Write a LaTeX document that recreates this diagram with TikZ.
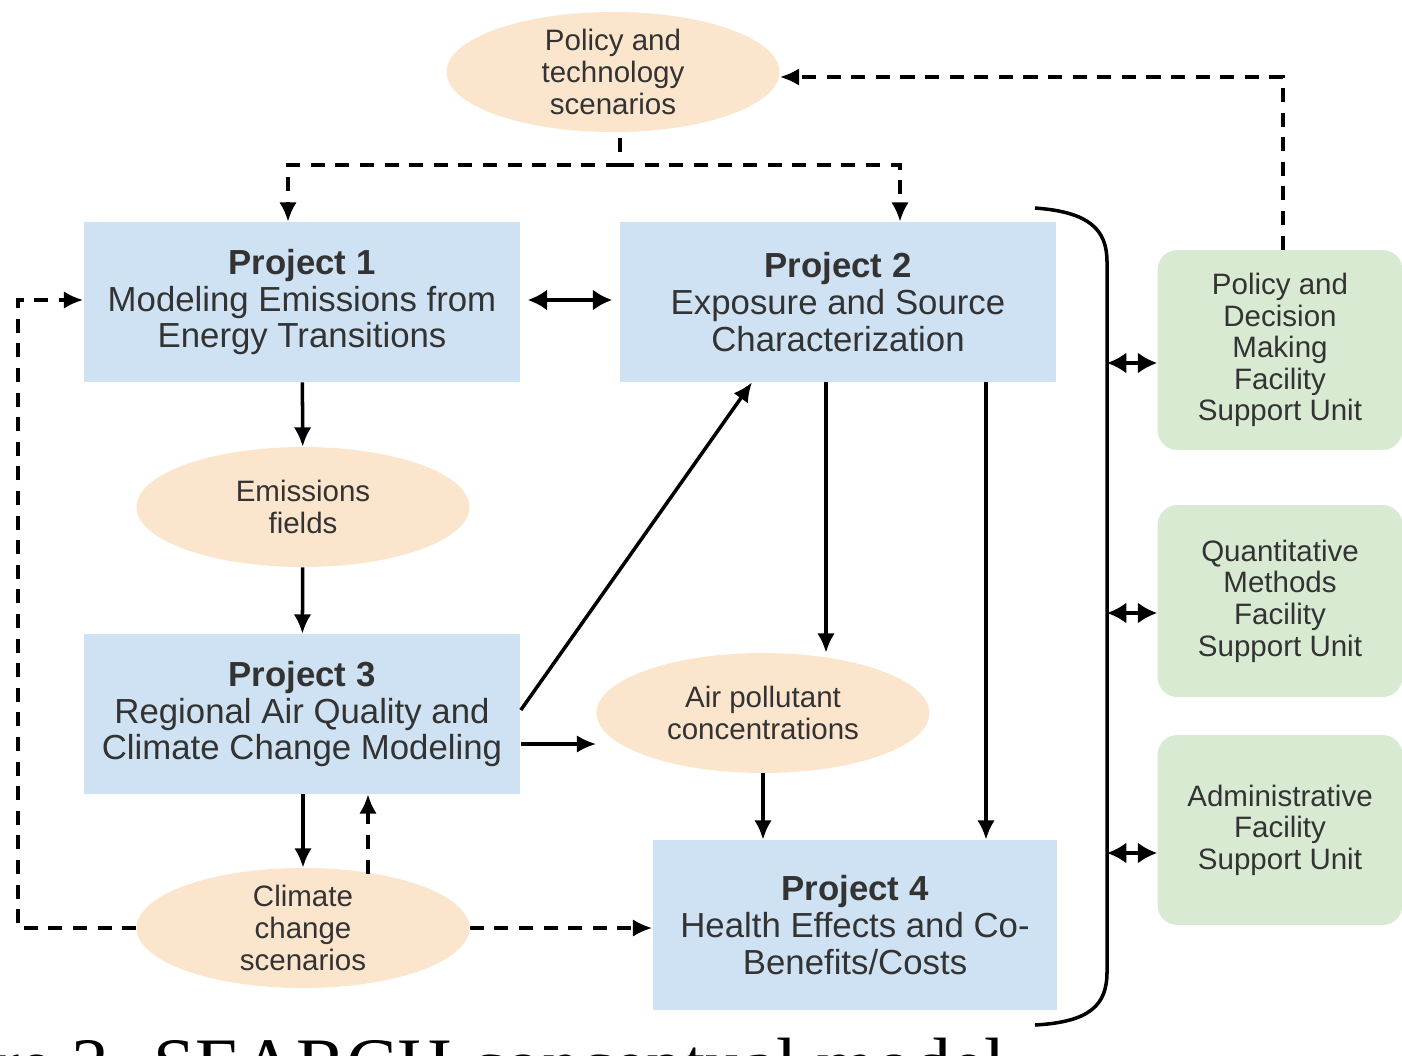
\documentclass[tikz,border=0pt]{standalone}
\usepackage{fontspec}
\setmainfont{Liberation Sans}
\newfontfamily\capfont{Liberation Serif}
\usepackage{xcolor}
\definecolor{projblue}{HTML}{CFE2F3}
\definecolor{dataorange}{HTML}{FCE5CD}
\definecolor{unitgreen}{HTML}{D9EAD3}
\definecolor{inktext}{HTML}{333333}
\usetikzlibrary{
  arrows.meta,
  positioning,
  shapes.geometric
}

\begin{document}
\begin{tikzpicture}[
  x=0.02cm, y=-0.02cm,
  projbox/.style={rectangle, fill=projblue, minimum width=8.74cm, minimum height=3.2cm, text=inktext, font=\fontsize{19.8}{21}\selectfont, align=center, inner sep=0pt},
  dataell/.style={ellipse, fill=dataorange, minimum width=6.66cm, minimum height=2.4cm, text=inktext, font=\fontsize{16.8}{18}\selectfont, align=center, inner sep=0pt},
  unitbox/.style={rectangle, rounded corners=0.4cm, fill=unitgreen, minimum width=4.9cm, text=inktext, font=\fontsize{16.8}{18}\selectfont, align=center, inner sep=0pt},
  arr/.style={-{Latex[length=11pt, width=10pt]}, line width=2pt},
  darr/.style={arr, dash pattern=on 8pt off 6pt},
  biarr/.style={{Latex[length=11pt, width=12pt]}-{Latex[length=11pt, width=12pt]}, line width=2pt},
]
\useasboundingbox (0,0) rectangle (1402,1055);

% scenario and data ellipses
\node[dataell] (policy) at (613,72) {Policy and\\technology\\scenarios};
\node[dataell] (emis) at (303,507) {Emissions\\fields};
\node[dataell] (air) at (763,713) {Air pollutant\\concentrations};
\node[dataell] (climate) at (303,928) {Climate\\change\\scenarios};

% projects
\node[projbox] (p1) at (302,302) {\textbf{Project 1}\\Modeling Emissions from\\Energy Transitions};
\node[projbox] (p2) at (838,302) {\textbf{Project 2}\\Exposure and Source\\Characterization};
\node[projbox] (p3) at (302,714) {\textbf{Project 3}\\Regional Air Quality and\\Climate Change Modeling};
\node[projbox, minimum width=8.1cm, minimum height=3.4cm] (p4) at (855,925) {\textbf{Project 4}\\Health Effects and Co-\\Benefits/Costs};

% facility support units
\node[unitbox, minimum height=4cm] (pdm) at (1280,350) {Policy and\\Decision\\Making\\Facility\\Support Unit};
\node[unitbox, minimum height=3.84cm] (qm) at (1280,601) {Quantitative\\Methods\\Facility\\Support Unit};
\node[unitbox, minimum height=3.8cm] (adm) at (1280,830) {Administrative\\Facility\\Support Unit};

% brace around the projects
\coordinate (btop) at (1035,208);
\coordinate (bbot) at (1035,1025);
\draw[line width=2pt] (btop) .. controls (1090,212) and (1107,230) .. (1107,262)
  -- (1107,972) .. controls (1107,1005) and (1090,1022) .. (bbot);
\coordinate (b1) at (1107,363);
\coordinate (b2) at (1107,613);
\coordinate (b3) at (1107,853);
\draw[biarr] (b1) -- (b1 -| pdm.west);
\draw[biarr] (b2) -- (b2 -| qm.west);
\draw[biarr] (b3) -- (b3 -| adm.west);

% scenario feedback
\coordinate (fb) at (1283,77);
\draw[darr] (pdm.north -| fb) -- (fb) -- (fb -| policy.east);
\coordinate (split) at (620,165);
\draw[line width=2pt, dash pattern=on 8pt off 6pt] (policy.south -| split) ++(0,6) -- (split);
\draw[darr] (split) -- (288,165) -- (p1.north -| 288,0);
\draw[darr] (split) -- (900,165) -- (p2.north -| 900,0);

% project links
\draw[biarr, shorten <=4pt, shorten >=4pt] (p1.east |- 0,300) -- (p2.west |- 0,300);
\draw[arr] (p1) -- (emis);
\draw[arr] (emis) -- (p3);
\draw[arr] (p3.east |- 0,710) -- (p2.south -| 752,0);
\draw[arr] (p3.east |- 0,744) -- (air.west |- 0,744);
\draw[arr] (p2.south -| 826,0) -- (air.north -| 826,0);
\draw[arr] (p2.south -| 986,0) -- (p4.north -| 986,0);
\draw[arr] (air.south -| 763,0) -- (p4.north -| 763,0);
\draw[arr] (p3.south -| 303,0) -- (climate.north -| 303,0);
\draw[darr] (climate.north -| 368,0) ++(0,6) -- (p3.south -| 368,0);
\draw[darr] (climate.east) -- (p4.west |- climate.east);
\draw[darr] (climate.west) -- (18,928) -- (18,300) -- (p1.west |- 0,300);

% caption, cut off by the page edge
\begin{scope}
  \clip (0,0) rectangle (1402,1055);
  \node[anchor=base west, inner sep=0pt, font=\capfont\fontsize{43}{50}\selectfont] (cap) at (-6,1090) {re 3. SEARCH conceptual model};
\end{scope}
\end{tikzpicture}
\end{document}
